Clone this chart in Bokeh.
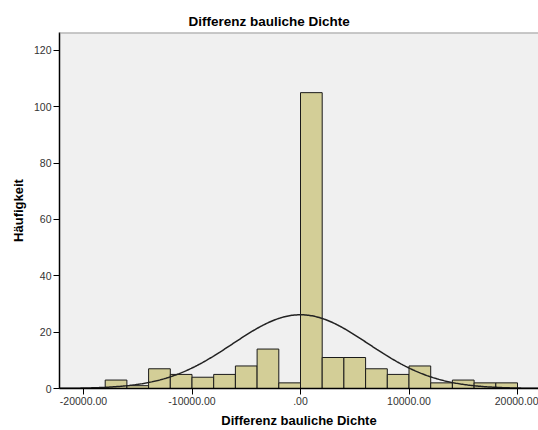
import math
from bokeh.plotting import figure
from bokeh.models import FixedTicker, CustomJSTickFormatter, Span, Range1d, ColumnDataSource
from bokeh.embed import file_html
from bokeh.resources import INLINE

# Histogram data (bin width 2000)
bin_left = [-18000, -16000, -14000, -12000, -10000, -8000, -6000, -4000, -2000,
            0, 2000, 4000, 6000, 8000, 10000, 12000, 14000, 16000, 18000]
counts = [3, 1, 7, 5, 4, 5, 8, 14, 2, 105, 11, 11, 7, 5, 8, 2, 3, 2, 2]
bin_width = 2000

# Normal curve parameters (SPSS-style fit)
curve_mean = 0.0
curve_sd = 6250.0
curve_n = 205

x_ticks = [-20000, -10000, 0, 10000, 20000]
y_ticks = [0, 20, 40, 60, 80, 100, 120]

x_start, x_end = -22212, 21935
y_start, y_end = 0, 126.35

p = figure(width=538, height=430, output_backend="svg", toolbar_location=None,
           x_range=Range1d(x_start, x_end), y_range=Range1d(y_start, y_end),
           title="Differenz bauliche Dichte",
           min_border_left=59, min_border_right=0, min_border_top=32, min_border_bottom=40)

p.background_fill_color = "#f0f0f0"
p.border_fill_color = "white"
p.outline_line_color = None
p.grid.visible = False

p.title.align = "left"
p.title.offset = 129
p.title.text_font = "Liberation Sans"
p.title.text_font_size = "13.5px"
p.title.text_font_style = "bold"
p.title.text_color = "#000000"
p.title.standoff = 8

src = ColumnDataSource(dict(
    left=bin_left,
    right=[b + bin_width for b in bin_left],
    top=counts,
    bottom=[0] * len(counts),
))
p.quad(left="left", right="right", top="top", bottom="bottom", source=src,
       fill_color="#d3ce97", line_color="#1a1a1a", line_width=1)

# Normal curve
cx = [x_start + (x_end - x_start) * i / 400 for i in range(401)]
cy = [curve_n * bin_width / (curve_sd * math.sqrt(2 * math.pi)) *
      math.exp(-0.5 * ((v - curve_mean) / curve_sd) ** 2) for v in cx]
p.line(cx, cy, line_color="#222222", line_width=1.5)

p.add_layout(Span(location=y_end, dimension="width", line_color="#9a9a9a", line_width=2))

for ax in (p.xaxis, p.yaxis):
    ax.axis_line_color = "#000000"
    ax.axis_line_width = 1.5
    ax.major_tick_line_color = "#000000"
    ax.major_tick_in = 0
    ax.major_tick_out = 6
    ax.minor_tick_line_color = None
    ax.major_label_text_font = "Liberation Sans"
    ax.major_label_text_font_size = "10.5px"
    ax.major_label_text_color = "#333333"
    ax.axis_label_text_font = "Liberation Sans"
    ax.axis_label_text_font_size = "13px"
    ax.axis_label_text_font_style = "bold"
    ax.axis_label_text_color = "#000000"

p.xaxis.ticker = FixedTicker(ticks=x_ticks)
p.yaxis.ticker = FixedTicker(ticks=y_ticks)
p.xaxis.formatter = CustomJSTickFormatter(code="""
if (tick == 0) { return ".00"; }
return tick.toFixed(2);
""")
p.xaxis.axis_label = "Differenz bauliche Dichte"
p.yaxis.axis_label = "Häufigkeit"
p.xaxis.major_label_standoff = 2
p.yaxis.major_label_standoff = 2
p.xaxis.axis_label_standoff = 5
p.yaxis.axis_label_standoff = 5

open("out.html", "w").write(file_html(p, INLINE))
